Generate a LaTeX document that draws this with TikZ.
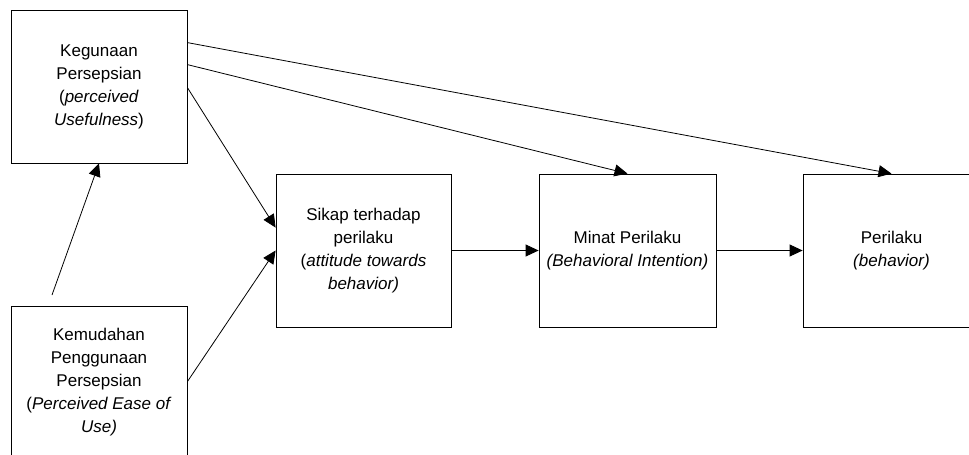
\documentclass[tikz,border=0pt]{standalone}
\usepackage{fontspec}
\setmainfont{Liberation Sans}
\usetikzlibrary{arrows.meta}
\begin{document}
\begin{tikzpicture}[x=1pt,y=-1pt,
  box/.style={draw=black, line width=0.8pt, minimum width=176pt, minimum height=153pt,
    inner sep=0pt, align=center, font=\fontsize{17}{23}\selectfont},
  conn/.style={line width=0.8pt, -{Triangle[length=13pt,width=12pt]}}]
\useasboundingbox (0,0) rectangle (969,455);
\node[box] (kg) at (99,86.5) {Kegunaan\\Persepsian\\(\textit{perceived}\\\textit{Usefulness})};
\node[box] (km) at (99,382.5) {Kemudahan\\Penggunaan\\Persepsian\\(\textit{Perceived Ease of}\\\textit{Use)}};
\node[box, minimum width=175pt] (sk) at (363.5,250.5) {Sikap terhadap\\perilaku\\(\textit{attitude towards}\\\textit{behavior)}};
\node[box, minimum width=177pt] (mi) at (627.5,250.5) {Minat Perilaku\\\textit{(Behavioral Intention)}};
\node[box, minimum width=177pt] (pe) at (891.5,250.5) {Perilaku\\\textit{(behavior)}};
\coordinate (up) at (52,295);
\draw[conn] ([yshift=-33pt]kg.north east) -- (pe.north);
\draw[conn] ([yshift=-55pt]kg.north east) -- (mi.north);
\draw[conn] ([yshift=-78pt]kg.north east) -- ([yshift=-54pt]sk.north west);
\draw[conn] ([yshift=-76pt]km.north east) -- (sk.west);
\draw[conn] (up) -- (kg.south);
\draw[conn] (sk.east) -- (mi.west);
\draw[conn] (mi.east) -- (pe.west);
\end{tikzpicture}
\end{document}
